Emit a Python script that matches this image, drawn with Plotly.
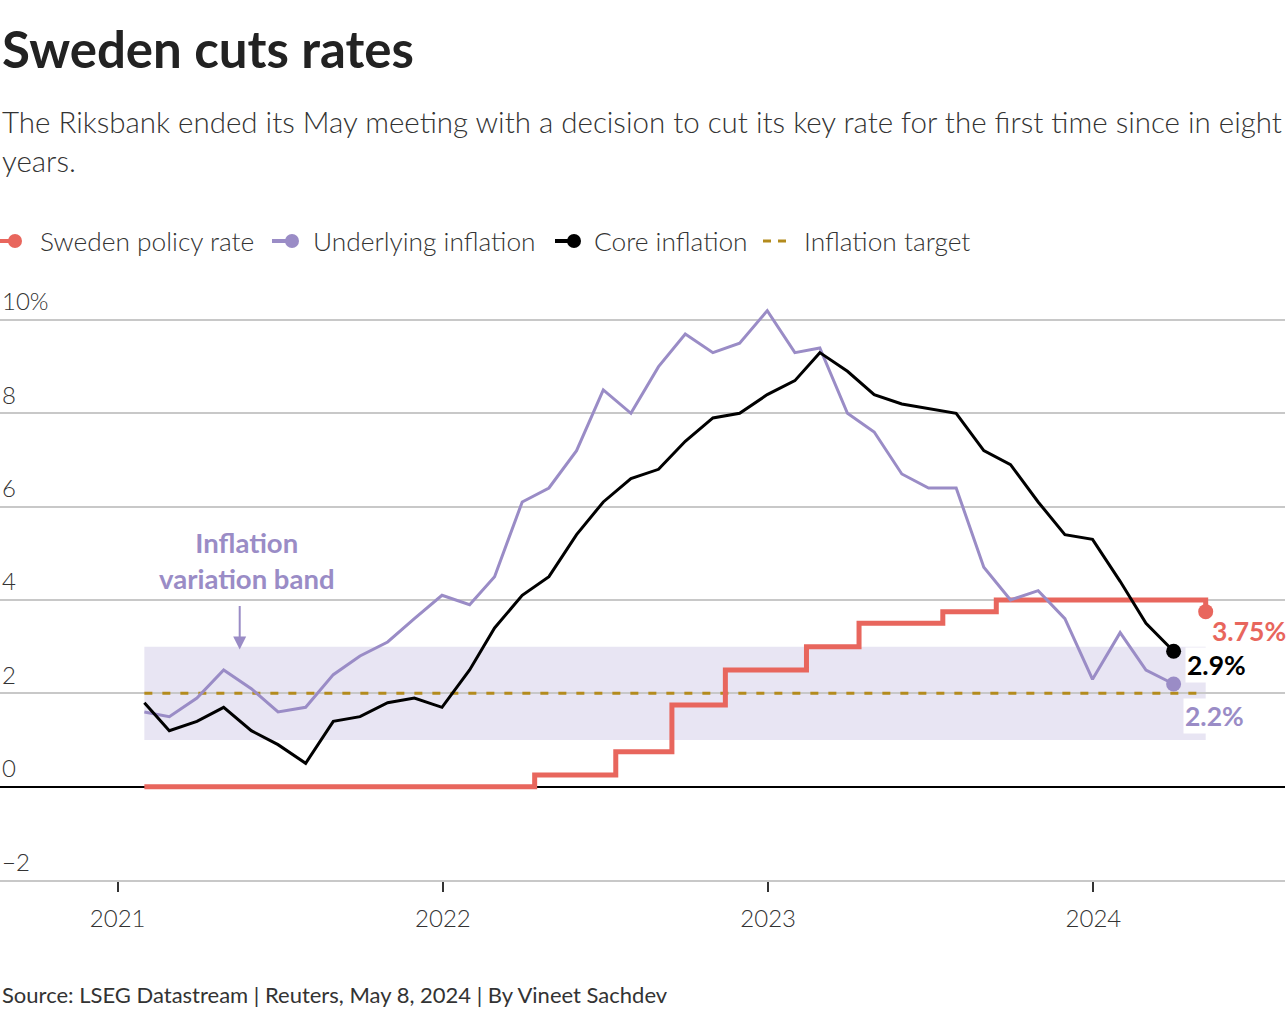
import plotly.graph_objects as go
import pandas as pd

# ---------------- data ----------------
months = pd.date_range("2021-01-31", periods=39, freq="ME")
underlying = [1.6, 1.5, 1.9, 2.5, 2.1, 1.6, 1.7, 2.4, 2.8, 3.1, 3.6, 4.1,
              3.9, 4.5, 6.1, 6.4, 7.2, 8.5, 8.0, 9.0, 9.7, 9.3, 9.5, 10.2,
              9.3, 9.4, 8.0, 7.6, 6.7, 6.4, 6.4, 4.7, 4.0, 4.2, 3.6, 2.3,
              3.3, 2.5, 2.2]
core = [1.8, 1.2, 1.4, 1.7, 1.2, 0.9, 0.5, 1.4, 1.5, 1.8, 1.9, 1.7,
        2.5, 3.4, 4.1, 4.5, 5.4, 6.1, 6.6, 6.8, 7.4, 7.9, 8.0, 8.4,
        8.7, 9.3, 8.9, 8.4, 8.2, 8.1, 8.0, 7.2, 6.9, 6.1, 5.4, 5.3,
        4.4, 3.5, 2.9]
rate_dates = ["2021-01-31", "2022-04-14", "2022-07-14", "2022-09-15",
              "2022-11-14", "2023-02-13", "2023-04-13", "2023-07-16",
              "2023-09-14", "2024-05-06"]
rate_values = [0, 0.25, 0.75, 1.75, 2.5, 3.0, 3.5, 3.75, 4.0, 3.75]

band_low, band_high = 1, 3
target_value = 2
band_start, band_end = "2021-01-31", "2024-05-06"

year_ticks = ["2021-01-01", "2022-01-01", "2023-01-01", "2024-01-01"]
year_labels = ["2021", "2022", "2023", "2024"]
y_ticks = [-2, 0, 2, 4, 6, 8, 10]
y_labels = ["\u22122", "0", "2", "4", "6", "8", "10%"]

series_names = ["Sweden policy rate", "Underlying inflation", "Core inflation", "Inflation target"]

# ---------------- style ----------------
RED = "#e8665d"
PURPLE = "#9a8cc6"
BLACK = "#000000"
GOLD = "#b38b1d"
BAND = "#e8e5f3"
GRID = "#c8c8c8"
TEXT = "#333333"
FONT = "Lato"

W, H = 1288, 1014
L, R, T, B = 0, 3, 300, 134
PW, PH = W - L - R, H - T - B


def px_x(p):
    return (p - L) / PW


def px_y(p):
    return 1 - (p - T) / PH


fig = go.Figure()

# target line
fig.add_trace(go.Scatter(x=[band_start, band_end], y=[target_value, target_value],
                         mode="lines", line=dict(color=GOLD, width=3, dash="8px,10px"),
                         hoverinfo="skip", showlegend=False))
# policy rate
fig.add_trace(go.Scatter(x=rate_dates, y=rate_values, mode="lines", line_shape="hv",
                         line=dict(color=RED, width=5), showlegend=False))
# underlying
fig.add_trace(go.Scatter(x=months, y=underlying, mode="lines",
                         line=dict(color=PURPLE, width=3), showlegend=False))
# core
fig.add_trace(go.Scatter(x=months, y=core, mode="lines",
                         line=dict(color=BLACK, width=3), showlegend=False))
# end dots
fig.add_trace(go.Scatter(x=[rate_dates[-1]], y=[rate_values[-1]], mode="markers",
                         marker=dict(color=RED, size=15), showlegend=False))
fig.add_trace(go.Scatter(x=[months[-1]], y=[underlying[-1]], mode="markers",
                         marker=dict(color=PURPLE, size=15), showlegend=False))
fig.add_trace(go.Scatter(x=[months[-1]], y=[core[-1]], mode="markers",
                         marker=dict(color=BLACK, size=15), showlegend=False))

shapes = []
# variation band
shapes.append(dict(type="rect", xref="x", yref="y", x0=band_start, x1=band_end,
                   y0=band_low, y1=band_high, fillcolor=BAND, line=dict(width=0),
                   layer="below"))

annotations = []
# title etc.
annotations.append(dict(text="<b>Sweden cuts rates</b>", xref="paper", yref="paper",
                        x=px_x(0), y=px_y(48), xanchor="left", yanchor="middle",
                        showarrow=False, font=dict(family=FONT, size=51, color="#222222")))
annotations.append(dict(text="The Riksbank ended its May meeting with a decision to cut its key rate for the first time since in eight",
                        xref="paper", yref="paper", x=px_x(0), y=px_y(121),
                        xanchor="left", yanchor="middle", showarrow=False,
                        font=dict(family=FONT, size=29.5, color=TEXT, weight=300)))
annotations.append(dict(text="years.", xref="paper", yref="paper", x=px_x(0), y=px_y(161),
                        xanchor="left", yanchor="middle", showarrow=False,
                        font=dict(family=FONT, size=29.5, color=TEXT, weight=300)))
annotations.append(dict(text="Source: LSEG Datastream | Reuters, May 8, 2024 | By Vineet Sachdev",
                        xref="paper", yref="paper", x=px_x(0), y=px_y(994),
                        xanchor="left", yanchor="middle", showarrow=False,
                        font=dict(family=FONT, size=22, color=TEXT)))

# legend (manual)
leg_y = 241
leg_items = [
    (series_names[0], RED, 0, 15, 38, "solid"),
    (series_names[1], PURPLE, 272, 292, 311, "solid"),
    (series_names[2], BLACK, 555, 574, 592, "solid"),
    (series_names[3], GOLD, 763, None, 802, "dash"),
]
for name, col, lx0, dotx, tx, kind in leg_items:
    if kind == "solid":
        shapes.append(dict(type="line", xref="paper", yref="paper",
                           x0=px_x(lx0), x1=px_x(dotx), y0=px_y(leg_y), y1=px_y(leg_y),
                           line=dict(color=col, width=4)))
        shapes.append(dict(type="circle", xref="paper", yref="paper",
                           xsizemode="pixel", ysizemode="pixel",
                           xanchor=px_x(dotx), yanchor=px_y(leg_y),
                           x0=-7, x1=7, y0=-7, y1=7,
                           fillcolor=col, line=dict(width=0)))
    else:
        shapes.append(dict(type="line", xref="paper", yref="paper",
                           x0=px_x(lx0), x1=px_x(lx0 + 28), y0=px_y(leg_y), y1=px_y(leg_y),
                           line=dict(color=col, width=3, dash="8px,7px")))
    annotations.append(dict(text=name, xref="paper", yref="paper", x=px_x(tx), y=px_y(leg_y),
                            xanchor="left", yanchor="middle", showarrow=False,
                            font=dict(family=FONT, size=26.3, color=TEXT, weight=300)))

# y labels
for v, lab in zip(y_ticks, y_labels):
    annotations.append(dict(text=lab, xref="paper", yref="y", x=0, y=v, yshift=19,
                            xanchor="left", yanchor="middle", showarrow=False,
                            font=dict(family=FONT, size=24, color=TEXT, weight=300)))

# band label + arrow
annotations.append(dict(text="<b>Inflation<br>variation band</b>", xref="x", yref="y",
                        x="2021-05-26", y=4.84, xanchor="center", yanchor="middle",
                        showarrow=False, font=dict(family=FONT, size=27.5, color=PURPLE)))
annotations.append(dict(text="", xref="x", yref="y", x="2021-05-18", y=2.94,
                        ax=0, ay=-45, showarrow=True, arrowhead=2, arrowsize=1.3,
                        arrowwidth=2, arrowcolor=PURPLE))

# end labels
annotations.append(dict(text="<b>3.75%</b>", xref="x", yref="y", x=rate_dates[-1], y=rate_values[-1],
                        xanchor="left", yanchor="middle", xshift=4, yshift=-19, showarrow=False,
                        font=dict(family=FONT, size=26.5, color=RED)))
annotations.append(dict(text="<b>2.9%</b>", xref="x", yref="y", x=months[-1], y=core[-1],
                        xanchor="left", yanchor="middle", xshift=11, yshift=-14, showarrow=False,
                        bgcolor="white", font=dict(family=FONT, size=26.5, color=BLACK)))
annotations.append(dict(text="<b>2.2%</b>", xref="x", yref="y", x=months[-1], y=underlying[-1],
                        xanchor="left", yanchor="middle", xshift=9, yshift=-32, showarrow=False,
                        bgcolor="white", font=dict(family=FONT, size=26.5, color=PURPLE)))

fig.update_layout(
    width=W, height=H, margin=dict(l=L, r=R, t=T, b=B),
    paper_bgcolor="white", plot_bgcolor="white",
    font=dict(family=FONT, color=TEXT),
    shapes=shapes, annotations=annotations, showlegend=False,
    xaxis=dict(range=["2020-08-22", "2024-08-03"], tickvals=year_ticks, ticktext=year_labels,
               showgrid=False, ticks="outside", ticklen=10, tickwidth=1.5, tickcolor=TEXT,
               ticklabelstandoff=6,
               tickfont=dict(family=FONT, size=24, color=TEXT, weight=300),
               showline=True, linecolor=GRID, linewidth=1.5, zeroline=False),
    yaxis=dict(range=[-2, -2 + PH / 46.67], tickvals=y_ticks, showticklabels=False,
               showgrid=True, gridcolor=GRID, gridwidth=1.5,
               zeroline=True, zerolinecolor=BLACK, zerolinewidth=2, ticks=""),
)

fig.write_html("out.html", config={"displayModeBar": False},
               post_script="document.body.style.margin='0';")
